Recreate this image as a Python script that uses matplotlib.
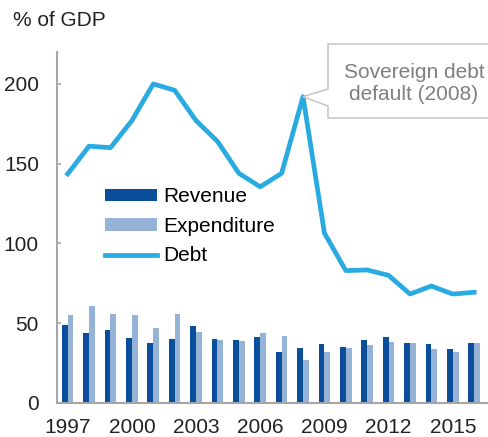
import matplotlib.pyplot as plt
from matplotlib.patches import Polygon
import numpy as np

plt.rcParams['font.family'] = ['Liberation Sans', 'DejaVu Sans']

years = list(range(1997, 2017))
revenue = [49.2, 44.1, 45.6, 40.8, 37.9, 40.4, 48.3, 40.4, 39.3, 41.2,
           31.8, 34.7, 36.8, 34.9, 39.7, 41.4, 37.9, 37.2, 34.1, 37.6]
expenditure = [55.0, 60.8, 56.0, 55.4, 46.8, 56.0, 44.8, 39.7, 38.9, 43.6,
               41.8, 26.8, 32.2, 34.3, 36.4, 38.5, 37.6, 33.9, 32.2, 37.6]
debt = [143.6, 161, 160, 177, 200, 196, 177, 164, 144, 135.5,
        144, 192, 106.5, 83, 83.4, 80, 68.3, 73.3, 68.3, 69.4]
tick_years = [1997, 2000, 2003, 2006, 2009, 2012, 2015]

rev_color = '#0b4f9c'
exp_color = '#95b3d7'
debt_color = '#29abe2'
axis_gray = '#a6a6a6'
fs = 15

fig = plt.figure(figsize=(4.88, 4.37), dpi=100)
ax = fig.add_axes([57 / 488, 34 / 437, 430 / 488, 351 / 437])

x = np.array(years)
w = 0.27
h_rev = ax.bar(x - w / 2, revenue, width=w, color=rev_color, label='Revenue')
h_exp = ax.bar(x + w / 2, expenditure, width=w, color=exp_color, label='Expenditure')
h_debt, = ax.plot(x, debt, color=debt_color, lw=3.4, label='Debt',
                  solid_joinstyle='round')

ax.set_xlim(1996.5, 2016.6)
ax.set_ylim(0, 220)
ax.set_yticks([0, 50, 100, 150, 200])
ax.set_xticks(tick_years)
ax.tick_params(axis='x', length=0, pad=11, labelsize=fs, colors='#222222')
ax.tick_params(axis='y', direction='in', length=3, width=1.2, color=axis_gray,
               pad=13, labelsize=fs, labelcolor='#222222')
for s in ['top', 'right']:
    ax.spines[s].set_visible(False)
for s in ['left', 'bottom']:
    ax.spines[s].set_color(axis_gray)
    ax.spines[s].set_linewidth(1.5)

ax.legend(handles=[h_rev, h_exp, h_debt], loc='upper left',
          bbox_to_anchor=(0.112, 0.614), frameon=False,
          fontsize=fs, handlelength=2.5, handleheight=0.53, handletextpad=0.3,
          labelspacing=0.5, borderaxespad=0, borderpad=0)

fig.text(13 / 488, 1 - 20 / 437, '% of GDP', fontsize=fs, va='center',
         ha='left', color='#222222')

# callout box pointing at the 2008 peak
fig.canvas.draw()
tip = ax.transData.transform((2008, debt[years.index(2008)]))
tip_px = (tip[0], 437 - tip[1])
pts_px = [(328, 44), (495, 44), (495, 118), (328, 118), (328, 106),
          tip_px, (328, 89)]
pts = [(px / 488, 1 - py / 437) for px, py in pts_px]
fig.patches.append(Polygon(pts, closed=True, transform=fig.transFigure,
                           facecolor='white', edgecolor='#c8c8c8', lw=1.2,
                           zorder=5))
fig.text(414 / 488, 1 - 83 / 437, 'Sovereign debt\ndefault (2008)',
         fontsize=fs, color='#7f7f7f', ha='center', va='center',
         linespacing=1.2, zorder=6)

fig.savefig('out.png', dpi=100)
